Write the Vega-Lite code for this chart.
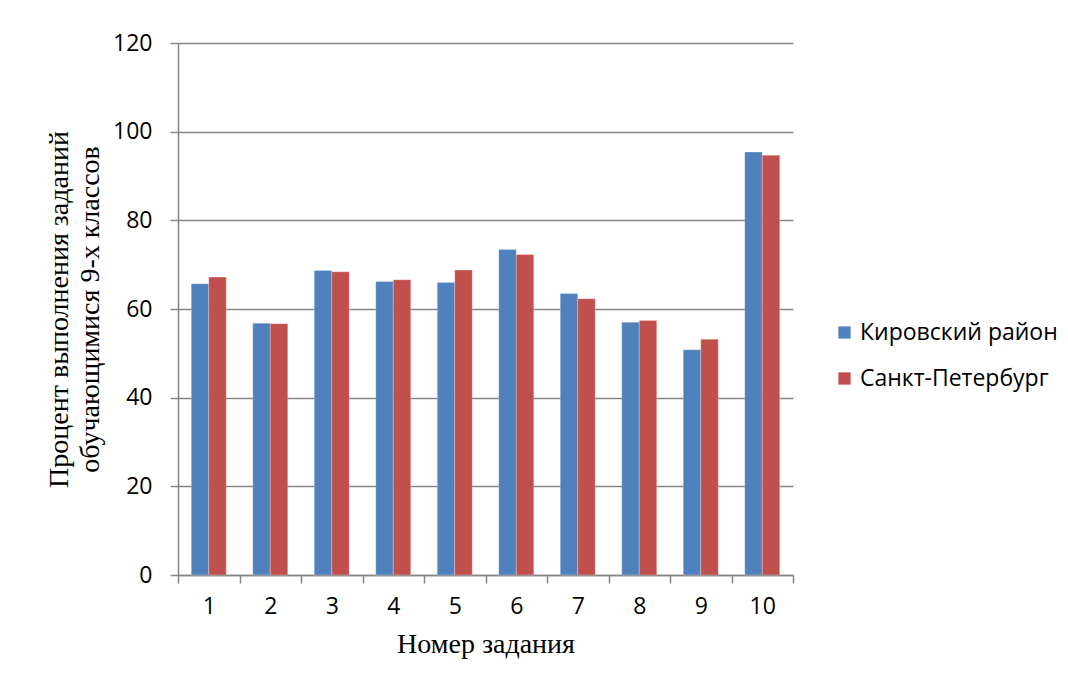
{
  "$schema": "https://vega.github.io/schema/vega-lite/v6.json",
  "width": 615,
  "height": 532,
  "autosize": {"type": "none"},
  "padding": {"left": 178, "top": 43, "right": 275, "bottom": 114},
  "background": "white",
  "config": {"view": {"stroke": null}},
  "data": {"values": [
    {"task": "1", "series": "Кировский район", "value": 65.7},
    {"task": "1", "series": "Санкт-Петербург", "value": 67.2},
    {"task": "2", "series": "Кировский район", "value": 56.8},
    {"task": "2", "series": "Санкт-Петербург", "value": 56.7},
    {"task": "3", "series": "Кировский район", "value": 68.7},
    {"task": "3", "series": "Санкт-Петербург", "value": 68.4},
    {"task": "4", "series": "Кировский район", "value": 66.2},
    {"task": "4", "series": "Санкт-Петербург", "value": 66.6},
    {"task": "5", "series": "Кировский район", "value": 66.0},
    {"task": "5", "series": "Санкт-Петербург", "value": 68.8},
    {"task": "6", "series": "Кировский район", "value": 73.4},
    {"task": "6", "series": "Санкт-Петербург", "value": 72.3},
    {"task": "7", "series": "Кировский район", "value": 63.5},
    {"task": "7", "series": "Санкт-Петербург", "value": 62.3},
    {"task": "8", "series": "Кировский район", "value": 57.0},
    {"task": "8", "series": "Санкт-Петербург", "value": 57.4},
    {"task": "9", "series": "Кировский район", "value": 50.8},
    {"task": "9", "series": "Санкт-Петербург", "value": 53.2},
    {"task": "10", "series": "Кировский район", "value": 95.4},
    {"task": "10", "series": "Санкт-Петербург", "value": 94.7}
  ]},
  "mark": {"type": "bar", "stroke": "white", "strokeOpacity": 0.5, "strokeWidth": 0.5},
  "encoding": {
    "x": {
      "field": "task", "type": "ordinal", "sort": null,
      "scale": {"paddingInner": 0, "paddingOuter": 0},
      "axis": {
        "title": "Номер задания", "titleFont": "Liberation Serif", "titleFontSize": 28, "titleFontWeight": "normal", "titleColor": "black", "titlePadding": 12,
        "labelAngle": 0, "labelFont": "Open Sans", "labelFontSize": 23, "labelColor": "black", "labelPadding": 12,
        "tickBand": "extent", "tickSize": 8, "tickColor": "#868686", "tickWidth": 1.5,
        "domainColor": "#868686", "domainWidth": 1.5, "grid": false
      }
    },
    "xOffset": {"field": "series", "type": "nominal", "scale": {"paddingInner": 0, "paddingOuter": 0.757}},
    "y": {
      "field": "value", "type": "quantitative",
      "scale": {"domain": [0, 120], "nice": false},
      "axis": {
        "values": [0, 20, 40, 60, 80, 100, 120],
        "title": ["Процент выполнения заданий", "обучающимися 9-х классов"], "titleFont": "Liberation Serif", "titleFontSize": 28, "titleFontWeight": "normal", "titleColor": "black", "titlePadding": 8, "titleLineHeight": 31,
        "labelFont": "Open Sans", "labelFontSize": 23, "labelColor": "black", "labelPadding": 18,
        "tickSize": 8, "tickColor": "#868686", "tickWidth": 1.5,
        "domainColor": "#868686", "domainWidth": 1.5,
        "grid": true, "gridColor": "#868686", "gridWidth": 1.5
      }
    },
    "color": {
      "field": "series", "type": "nominal",
      "scale": {"domain": ["Кировский район", "Санкт-Петербург"], "range": ["#4F81BD", "#C0504D"]},
      "legend": {
        "title": null, "orient": "none", "legendX": 655, "legendY": 278,
        "symbolType": "square", "symbolSize": 150, "symbolStrokeWidth": 0,
        "labelFont": "Open Sans", "labelFontSize": 23, "labelColor": "black", "labelOffset": 4, "labelLimit": 400,
        "rowPadding": 22
      }
    }
  }
}
